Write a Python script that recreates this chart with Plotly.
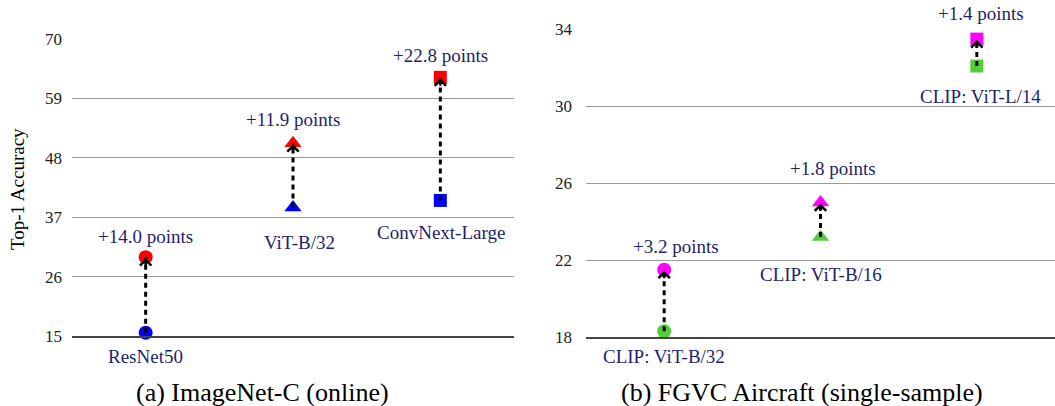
import plotly.graph_objects as go

# ---------------- data ----------------
models_a = ["ResNet50", "ViT-B/32", "ConvNext-Large"]
base_a = [15.6, 38.8, 40.1]
improved_a = [29.6, 50.7, 62.9]
gain_a = ["+14.0 points", "+11.9 points", "+22.8 points"]
ticks_a = [15, 26, 37, 48, 59, 70]

models_b = ["CLIP: ViT-B/32", "CLIP: ViT-B/16", "CLIP: ViT-L/14"]
base_b = [18.3, 23.2, 32.1]
improved_b = [21.5, 25.0, 33.5]
gain_b = ["+3.2 points", "+1.8 points", "+1.4 points"]
ticks_b = [18, 22, 26, 30, 34]

symbols = ["circle", "triangle-up", "square"]
sizes = [14, 15, 13]

# ---------------- style ----------------
FONT = "Liberation Serif"
TXT = "#1f1f6b"
W, H = 1055, 406

# label offsets (pixels): gain label above improved marker, name below base marker
gain_shift_a = [21, 24, 22]
name_shift_a = [-24, -35, -32]
name_dx_a = [0, 6, 1]
gain_dx_a = [0, 0, 0]
gain_shift_b = [23, 34, 26]
name_shift_b = [-25, -37, -30]
name_dx_b = [0, 0, 4]
gain_dx_b = [12, 12, 4]

fig = go.Figure()
annotations = []


def add_panel(xref, yref, base, improved, models, gains, base_col, imp_col,
              gshift, nshift, gdx, ndx):
    xs = [i + 0.5 for i in range(len(models))]
    for i, x in enumerate(xs):
        fig.add_trace(go.Scatter(x=[x], y=[base[i]], mode="markers", xaxis=xref, yaxis=yref,
                                 marker=dict(symbol=symbols[i], size=sizes[i], color=base_col,
                                             line=dict(width=0)),
                                 cliponaxis=False, showlegend=False, hoverinfo="skip"))
        fig.add_trace(go.Scatter(x=[x], y=[improved[i]], mode="markers", xaxis=xref, yaxis=yref,
                                 marker=dict(symbol=symbols[i], size=sizes[i], color=imp_col,
                                             line=dict(width=0)),
                                 cliponaxis=False, showlegend=False, hoverinfo="skip"))
        fig.add_trace(go.Scatter(x=[x, x], y=[base[i], improved[i]], mode="lines",
                                 xaxis=xref, yaxis=yref,
                                 line=dict(color="black", width=3, dash="5px,4px"),
                                 cliponaxis=False, showlegend=False, hoverinfo="skip"))
        annotations.append(dict(x=x, y=improved[i], xref=xref, yref=yref, text="",
                                showarrow=True, arrowhead=4, arrowsize=1.0, arrowwidth=2.2,
                                arrowcolor="black", ax=0, ay=10, standoff=1))
        annotations.append(dict(x=x, y=improved[i], xref=xref, yref=yref, text=gains[i],
                                showarrow=False, yshift=gshift[i], xshift=gdx[i],
                                xanchor="center", yanchor="middle",
                                font=dict(family=FONT, size=19, color=TXT)))
        annotations.append(dict(x=x, y=base[i], xref=xref, yref=yref, text=models[i],
                                showarrow=False, yshift=nshift[i], xshift=ndx[i],
                                xanchor="center", yanchor="middle",
                                font=dict(family=FONT, size=19, color=TXT)))


add_panel("x", "y", base_a, improved_a, models_a, gain_a, "#0000ff", "#ff0000",
          gain_shift_a, name_shift_a, gain_dx_a, name_dx_a)
add_panel("x2", "y2", base_b, improved_b, models_b, gain_b, "#55cc3c", "#ff00ff",
          gain_shift_b, name_shift_b, gain_dx_b, name_dx_b)

annotations.append(dict(x=262 / W, y=(H - 392) / H, xref="paper", yref="paper",
                        text="(a) ImageNet-C (online)", showarrow=False,
                        xanchor="center", yanchor="middle",
                        font=dict(family=FONT, size=26, color="black")))
annotations.append(dict(x=802 / W, y=(H - 392) / H, xref="paper", yref="paper",
                        text="(b) FGVC Aircraft (single-sample)", showarrow=False,
                        xanchor="center", yanchor="middle",
                        font=dict(family=FONT, size=26, color="black")))
annotations.append(dict(x=17 / W, y=(H - 189) / H, xref="paper", yref="paper",
                        text="Top-1 Accuracy", showarrow=False, textangle=-90,
                        xanchor="center", yanchor="middle",
                        font=dict(family=FONT, size=19, color="black")))

axis_common = dict(showgrid=False, zeroline=False, showticklabels=False, ticks="",
                   showline=True, linecolor="#444", linewidth=1.5, range=[0, 3],
                   fixedrange=True, automargin=False)
yaxis_common = dict(showgrid=True, gridcolor="#9a9a9a", gridwidth=1.2, zeroline=False,
                    ticks="", showline=False, automargin=False, fixedrange=True,
                    tickfont=dict(family=FONT, size=17, color="#222"))

fig.update_layout(
    template="none",
    width=W, height=H, autosize=False,
    margin=dict(l=0, r=0, t=0, b=0, pad=0),
    paper_bgcolor="white", plot_bgcolor="white",
    showlegend=False,
    xaxis=dict(domain=[72 / W, 514 / W], anchor="y", **axis_common),
    xaxis2=dict(domain=[586 / W, 1.0], anchor="y2", **axis_common),
    yaxis=dict(domain=[(H - 336) / H, (H - 39) / H], range=[15, 70], tickvals=ticks_a,
               anchor="x", ticklabelstandoff=9, **yaxis_common),
    yaxis2=dict(domain=[(H - 337) / H, (H - 29.5) / H], range=[18, 34], tickvals=ticks_b,
                anchor="x2", ticklabelstandoff=13, **yaxis_common),
    annotations=annotations,
)

fig.write_html("out.html", config={"displayModeBar": False},
               post_script="document.body.style.margin='0';")
